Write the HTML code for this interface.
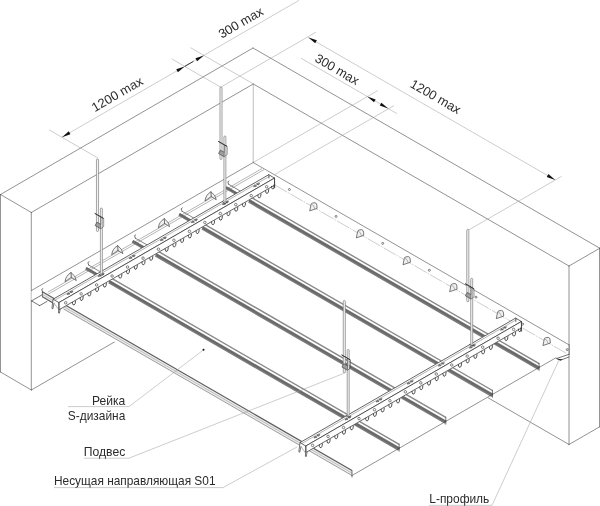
<!DOCTYPE html>
<html><head><meta charset="utf-8"><title>S-design ceiling</title>
<style>
html,body{margin:0;padding:0;background:#fff}
svg{display:block}
.w{stroke:#444;stroke-width:.58;fill:none;stroke-linecap:round}
.w2{stroke:#8a8a8a;stroke-width:.55;fill:none}
.m{stroke:#444;stroke-width:.7;fill:none}
.d{stroke:#3a3a3a;stroke-width:.7;fill:none;stroke-linejoin:round;stroke-linecap:round}
.l{stroke:#777;stroke-width:.55;fill:none}
.x{stroke:#9a9a9a;stroke-width:.5;fill:none}
.x2{stroke:#222;stroke-width:.9;fill:none}
.fill{fill:#fff;stroke:none}
.fillc{fill:#fff;stroke:none}
.cf{fill:#fff;stroke:#333;stroke-width:.75;stroke-linejoin:round}
.h{fill:#fff;stroke:#333;stroke-width:.6}
.hk{fill:none;stroke:#333;stroke-width:.85;stroke-linecap:round}
.bt{fill:#999;stroke:#3a3a3a;stroke-width:.55;stroke-linejoin:round}
.r0f{fill:#ececec;stroke:none}
.r0a{stroke:#5a5a5a;stroke-width:1.1;fill:none}
.r0b{stroke:#aaa;stroke-width:.7;fill:none}
.r0c{stroke:#777;stroke-width:.7;fill:none}
.rt2{stroke:#666;stroke-width:.8;fill:none}
.rb2{stroke:#777;stroke-width:3.1;fill:none}
.rt{stroke:#888;stroke-width:1.4;fill:none}
.rb{stroke:#7b7b7b;stroke-width:3.7;fill:none}
.rc{stroke:#686868;stroke-width:1.6;fill:none}
.tail{fill:#e8e8e8;stroke:#444;stroke-width:.6}
.rod{fill:#f2f2f2;stroke:#6c6c6c;stroke-width:.6}
.clip{fill:none;stroke:#444;stroke-width:.55;stroke-linejoin:round}
.clipd{fill:#a0a0a0;stroke:#444;stroke-width:.45}
.clipb{stroke:#2a2a2a;stroke-width:.9}
.cl{fill:#f1f1f1;stroke:#444;stroke-width:.7;stroke-linejoin:round}
.ar{fill:#111;stroke:none}
.t{font-family:"Liberation Sans",sans-serif;fill:#2b2b2b}
</style></head>
<body>
<svg width="600" height="506" viewBox="0 0 600 506" style="filter:grayscale(1)">
<rect width="600" height="506" fill="#fff"/>
<line class="w" x1="0.5" y1="194.5" x2="253" y2="48"/>
<line class="w" x1="253" y1="48" x2="599.5" y2="248.06"/>
<line class="w" x1="0.5" y1="194.5" x2="31.3" y2="212.5"/>
<line class="w" x1="31.3" y1="212.5" x2="253.3" y2="84"/>
<line class="w" x1="253.3" y1="84" x2="569" y2="266"/>
<line class="w" x1="569" y1="266" x2="599.5" y2="248.39"/>
<line class="w" x1="0.5" y1="194.5" x2="0.5" y2="372"/>
<line class="w" x1="31.3" y1="212.5" x2="31.3" y2="390"/>
<line class="w" x1="569" y1="266" x2="569" y2="444.5"/>
<line class="w2" x1="253.3" y1="84" x2="253.2" y2="162.5"/>
<line class="w" x1="0.5" y1="372" x2="31.3" y2="390"/>
<line class="w" x1="31.3" y1="390" x2="119" y2="339.36"/>
<line class="w" x1="569" y1="444.5" x2="599.5" y2="426.89"/>
<line class="w" x1="599.5" y1="248.06" x2="599.5" y2="426.89"/>
<line class="w" x1="569" y1="444.5" x2="488" y2="397.73"/>
<line class="x" x1="62" y1="137.2" x2="299" y2="0.36"/>
<line class="x" x1="49" y1="129.8" x2="98" y2="158.09"/>
<line class="x" x1="171.5" y1="58.78" x2="221" y2="87.36"/>
<line class="x" x1="190.5" y1="47.66" x2="253.3" y2="83.92"/>
<path class="ar" d="M62,137.2 L68.8,131.37 L70.45,134.23 Z"/>
<path class="ar" d="M184.7,66.4 L177.9,72.23 L176.25,69.37 Z"/>
<line class="x2" x1="184.7" y1="66.4" x2="193.36" y2="61.4"/>
<path class="ar" d="M203.9,55.4 L197.1,61.23 L195.45,58.37 Z"/>
<text class="t" x="119.4" y="97.9" font-size="12.8" text-anchor="middle" transform="rotate(-30 119.4 97.9)" textLength="57" lengthAdjust="spacingAndGlyphs">1200 max</text>
<text class="t" x="243" y="26.4" font-size="12.8" text-anchor="middle" transform="rotate(-30 243 26.4)" textLength="49.2" lengthAdjust="spacingAndGlyphs">300 max</text>
<line class="x" x1="308.4" y1="37.4" x2="555" y2="179.78"/>
<path class="ar" d="M308.4,37.4 L316.85,40.37 L315.2,43.23 Z"/>
<path class="ar" d="M555.2,179.89 L546.75,176.92 L548.4,174.07 Z"/>
<line class="x" x1="221" y1="87" x2="316" y2="32.15"/>
<line class="x" x1="301" y1="58.2" x2="397" y2="113.63"/>
<path class="ar" d="M367.2,96.42 L375.65,99.39 L374,102.25 Z"/>
<path class="ar" d="M388.2,108.55 L379.75,105.58 L381.4,102.72 Z"/>
<line class="x" x1="378" y1="90.44" x2="253.2" y2="162.5"/>
<line class="x" x1="275" y1="174.3" x2="394" y2="105.59"/>
<line class="x" x1="561.5" y1="176.4" x2="469" y2="229.81"/>
<text class="t" x="334.9" y="73.2" font-size="12.8" text-anchor="middle" transform="rotate(30 334.9 73.2)" textLength="48.5" lengthAdjust="spacingAndGlyphs">300 max</text>
<text class="t" x="433.4" y="100.4" font-size="12.8" text-anchor="middle" transform="rotate(30 433.4 100.4)" textLength="56" lengthAdjust="spacingAndGlyphs">1200 max</text>
<path class="fill" d="M31.6,290.44 L253.2,162.5 L569,344.83 L569,354 L556,357.72 L352,475.5 L310,455 L63,311.63 L39.7,305.6 L31.5,300.9 Z"/>
<line class="w" x1="31.5" y1="290.5" x2="253.2" y2="162.5"/>
<line class="d" x1="31.5" y1="300.9" x2="39.7" y2="305.6"/>
<line class="d" x1="39.7" y1="305.6" x2="47" y2="301.39"/>
<line class="d" x1="31.5" y1="300.9" x2="42" y2="294.84"/>
<line class="l" x1="47.8" y1="292.2" x2="262" y2="168.53"/>
<line class="l" x1="48.4" y1="294.1" x2="264" y2="169.62"/>
<path class="cl" d="M65.05,281.7 Q65.6,275.8 71,272.55 Q75.7,275.8 76.3,280.55 L71.3,277.3 Z"/>
<path class="d" d="M71,272.55 L71.3,277.3"/>
<path class="cl" d="M111.7,254.77 Q112.25,248.87 117.65,245.62 Q122.35,248.87 122.95,253.62 L117.95,250.37 Z"/>
<path class="d" d="M117.65,245.62 L117.95,250.37"/>
<path class="cl" d="M158.35,227.84 Q158.9,221.94 164.3,218.69 Q169,221.94 169.6,226.69 L164.6,223.44 Z"/>
<path class="d" d="M164.3,218.69 L164.6,223.44"/>
<path class="cl" d="M205,200.91 Q205.55,195.01 210.95,191.76 Q215.65,195.01 216.25,199.76 L211.25,196.51 Z"/>
<path class="d" d="M210.95,191.76 L211.25,196.51"/>
<line class="w" x1="253.2" y1="162.5" x2="569" y2="344.83"/>
<line class="x" x1="275" y1="185.09" x2="567" y2="353.68" stroke-dasharray="14 1.2 1.5 1.2"/>
<path class="cl" d="M309.7,210.9 L311,204.5 Q311.2,203.3 312.4,203.1 L315,202.7 Q316.8,203.1 316.9,205.3 L317.1,208.4 Z"/>
<path class="l" d="M311.4,204.3 Q314,204.7 315,209.1"/>
<path class="cl" d="M356.35,237.83 L357.65,231.43 Q357.85,230.23 359.05,230.03 L361.65,229.63 Q363.45,230.03 363.55,232.23 L363.75,235.33 Z"/>
<path class="l" d="M358.05,231.23 Q360.65,231.63 361.65,236.03"/>
<path class="cl" d="M403,264.76 L404.3,258.36 Q404.5,257.16 405.7,256.96 L408.3,256.56 Q410.1,256.96 410.2,259.16 L410.4,262.26 Z"/>
<path class="l" d="M404.7,258.16 Q407.3,258.56 408.3,262.96"/>
<path class="cl" d="M449.65,291.69 L450.95,285.29 Q451.15,284.09 452.35,283.89 L454.95,283.49 Q456.75,283.89 456.85,286.09 L457.05,289.19 Z"/>
<path class="l" d="M451.35,285.09 Q453.95,285.49 454.95,289.89"/>
<path class="cl" d="M496.3,318.62 L497.6,312.22 Q497.8,311.02 499,310.82 L501.6,310.42 Q503.4,310.82 503.5,313.02 L503.7,316.12 Z"/>
<path class="l" d="M498,312.02 Q500.6,312.42 501.6,316.82"/>
<path class="cl" d="M542.95,345.55 L544.25,339.15 Q544.45,337.95 545.65,337.75 L548.25,337.35 Q550.05,337.75 550.15,339.95 L550.35,343.05 Z"/>
<path class="l" d="M544.65,338.95 Q547.25,339.35 548.25,343.75"/>
<circle class="h" cx="289.4" cy="189.5" r="1.0"/>
<circle class="h" cx="336.05" cy="216.43" r="1.0"/>
<circle class="h" cx="382.7" cy="243.36" r="1.0"/>
<circle class="h" cx="429.35" cy="270.29" r="1.0"/>
<circle class="h" cx="476" cy="297.22" r="1.0"/>
<circle class="h" cx="522.65" cy="324.15" r="1.0"/>
<circle class="h" cx="567.2" cy="349.6" r="1.0"/>
<line class="d" x1="569" y1="344.83" x2="569" y2="354.3"/>
<path class="d" d="M569,354.3 L556.4,358.6 L560.4,360.2 L569,357"/>
<path d="M556.4,358.6 L560.4,360.4 L563,359.4 Z" fill="#222"/>
<path class="r0f" d="M63.5,304.02 L352,470.59 L352,475.49 L63.5,308.92 Z"/>
<line class="r0a" x1="63.5" y1="304.02" x2="352" y2="470.59"/>
<line class="r0b" x1="63.5" y1="306.52" x2="352" y2="473.09"/>
<line class="r0c" x1="63.5" y1="308.92" x2="352" y2="475.49"/>
<path class="d" d="M352,470.59 L352,476.99"/>
<line class="rt" x1="109.15" y1="276.91" x2="399.15" y2="444.35"/>
<line class="rb" x1="109.15" y1="281.76" x2="399.15" y2="449.2"/>
<line class="rc" x1="109.15" y1="281.31" x2="399.15" y2="448.75"/>
<path class="d" d="M399.15,444.15 L399.15,451.15"/>
<line class="rt" x1="155.8" y1="249.98" x2="445.8" y2="417.42"/>
<line class="rb" x1="155.8" y1="254.83" x2="445.8" y2="422.27"/>
<line class="rc" x1="155.8" y1="254.38" x2="445.8" y2="421.82"/>
<path class="d" d="M445.8,417.22 L445.8,424.22"/>
<line class="rt" x1="202.45" y1="223.05" x2="492.45" y2="390.49"/>
<line class="rb" x1="202.45" y1="227.9" x2="492.45" y2="395.34"/>
<line class="rc" x1="202.45" y1="227.45" x2="492.45" y2="394.89"/>
<path class="d" d="M492.45,390.29 L492.45,397.29"/>
<line class="rt" x1="249.1" y1="196.12" x2="539.1" y2="363.56"/>
<line class="rb" x1="249.1" y1="200.97" x2="539.1" y2="368.41"/>
<line class="rc" x1="249.1" y1="200.52" x2="539.1" y2="367.96"/>
<path class="d" d="M539.1,363.36 L539.1,370.36"/>
<line class="w" x1="352" y1="475.5" x2="556" y2="357.72"/>
<path class="r0f" d="M42.4,291.84 L60,302 L60,306.9 L42.4,296.74 Z"/>
<line class="r0a" x1="42.4" y1="291.84" x2="60" y2="302"/>
<line class="r0b" x1="42.4" y1="294.34" x2="60" y2="304.5"/>
<line class="r0a" x1="42.4" y1="296.74" x2="60" y2="306.9"/>
<line class="d" x1="42.4" y1="291.84" x2="42.4" y2="296.74"/>
<path class="d" d="M42.6,292.04 L41.7,289.44 L42.9,288.64"/>
<line class="rt2" x1="88.55" y1="265.02" x2="106.65" y2="275.47"/>
<line class="rb2" x1="85.95" y1="268.32" x2="106.65" y2="280.27"/>
<line class="rc" x1="85.95" y1="267.92" x2="106.65" y2="279.87"/>
<path class="d" d="M88.75,265.22 L87.85,262.62 L89.05,261.82"/>
<line class="rt2" x1="135.2" y1="238.09" x2="153.3" y2="248.54"/>
<line class="rb2" x1="132.6" y1="241.39" x2="153.3" y2="253.34"/>
<line class="rc" x1="132.6" y1="240.99" x2="153.3" y2="252.94"/>
<path class="d" d="M135.4,238.29 L134.5,235.69 L135.7,234.89"/>
<line class="rt2" x1="181.85" y1="211.16" x2="199.95" y2="221.61"/>
<line class="rb2" x1="179.25" y1="214.46" x2="199.95" y2="226.41"/>
<line class="rc" x1="179.25" y1="214.06" x2="199.95" y2="226.01"/>
<path class="d" d="M182.05,211.36 L181.15,208.76 L182.35,207.96"/>
<line class="rt2" x1="228.5" y1="184.23" x2="246.6" y2="194.68"/>
<line class="rb2" x1="225.9" y1="187.53" x2="246.6" y2="199.48"/>
<line class="rc" x1="225.9" y1="187.13" x2="246.6" y2="199.08"/>
<path class="d" d="M228.7,184.43 L227.8,181.83 L229,181.03"/>
<text class="t" x="125.3" y="404.6" font-size="12.4" text-anchor="end" textLength="33.3" lengthAdjust="spacingAndGlyphs">Рейка</text>
<text class="t" x="125.3" y="419.6" font-size="12.4" text-anchor="end" textLength="57.5" lengthAdjust="spacingAndGlyphs">S-дизайна</text>
<text class="t" x="125.3" y="455.8" font-size="12.4" text-anchor="end" textLength="41.5" lengthAdjust="spacingAndGlyphs">Подвес</text>
<text class="t" x="54" y="485.2" font-size="12.4" textLength="161.5" lengthAdjust="spacingAndGlyphs">Несущая направляющая S01</text>
<text class="t" x="429.3" y="502.7" font-size="12.4" textLength="60" lengthAdjust="spacingAndGlyphs">L-профиль</text>
<path class="x" d="M68,406.6 L129,406.6 L203.3,350"/>
<circle cx="203.5" cy="349.8" r="1" fill="#111"/>
<path class="x" d="M84,458.2 L129,458.2 L343.5,373.5"/>
<path class="x" d="M54,487.6 L223,487.6 L297,447"/>
<path class="x" d="M429,505.3 L492,505.3 L559,360"/>
<path class="fillc" d="M53.1,299.2 L268.73,174.7 L274.53,178.1 L274.53,185.2 L59.2,309.7 L52.1,308.7 Z"/>
<path class="cf" d="M53.1,299.2 L268.73,174.7 L274.53,178.1 L58.9,302.6 Z"/>
<path class="cf" d="M58.9,302.6 L274.53,178.1 L274.53,185.2 L59.2,309.7 Z"/>
<line class="l" x1="54.8" y1="300.2" x2="270.43" y2="175.7"/>
<path class="d" d="M53.1,299.2 L51.9,308.4 L52.9,308.8 L54,303.2"/>
<path class="d" d="M58.9,302.6 L58.5,312.9 L59.4,313.2 L60.1,309.2"/>
<line class="l" x1="54" y1="303.2" x2="58.7" y2="309.6"/>
<path class="d" d="M268.73,174.7 L268.93,178.2"/>
<path class="d" d="M274.53,178.1 L274.73,187.9 L273.93,187.6 L273.73,185.2"/>
<circle class="h" cx="65.7" cy="302.77" r="1.25"/>
<circle class="h" cx="81.16" cy="293.85" r="1.25"/>
<circle class="h" cx="96.62" cy="284.92" r="1.25"/>
<circle class="h" cx="112.08" cy="276" r="1.25"/>
<circle class="h" cx="127.54" cy="267.07" r="1.25"/>
<circle class="h" cx="143" cy="258.14" r="1.25"/>
<circle class="h" cx="158.46" cy="249.22" r="1.25"/>
<circle class="h" cx="173.92" cy="240.29" r="1.25"/>
<circle class="h" cx="189.38" cy="231.37" r="1.25"/>
<circle class="h" cx="204.84" cy="222.44" r="1.25"/>
<circle class="h" cx="220.3" cy="213.51" r="1.25"/>
<circle class="h" cx="235.76" cy="204.59" r="1.25"/>
<circle class="h" cx="251.22" cy="195.66" r="1.25"/>
<circle class="h" cx="266.68" cy="186.73" r="1.25"/>
<path class="hk" d="M72.43,302.41 L72.53,303.71 Q72.83,305.31 74.23,304.91 Q75.43,304.31 75.53,301.11"/>
<path class="hk" d="M80.16,297.95 L80.26,299.25 Q80.56,300.85 81.96,300.45 Q83.16,299.85 83.26,296.65"/>
<path class="hk" d="M87.89,293.48 L87.99,294.78 Q88.29,296.38 89.69,295.98 Q90.89,295.38 90.99,292.18"/>
<path class="hk" d="M95.62,289.02 L95.72,290.32 Q96.02,291.92 97.42,291.52 Q98.62,290.92 98.72,287.72"/>
<path class="hk" d="M103.35,284.56 L103.45,285.86 Q103.75,287.46 105.15,287.06 Q106.35,286.46 106.45,283.26"/>
<path class="hk" d="M118.81,275.63 L118.91,276.93 Q119.21,278.53 120.61,278.13 Q121.81,277.53 121.91,274.33"/>
<path class="hk" d="M126.54,271.17 L126.64,272.47 Q126.94,274.07 128.34,273.67 Q129.54,273.07 129.64,269.87"/>
<path class="hk" d="M134.27,266.71 L134.37,268.01 Q134.67,269.61 136.07,269.21 Q137.27,268.61 137.37,265.41"/>
<path class="hk" d="M142,262.24 L142.1,263.54 Q142.4,265.14 143.8,264.74 Q145,264.14 145.1,260.94"/>
<path class="hk" d="M149.73,257.78 L149.83,259.08 Q150.13,260.68 151.53,260.28 Q152.73,259.68 152.83,256.48"/>
<path class="hk" d="M165.19,248.85 L165.29,250.15 Q165.59,251.75 166.99,251.35 Q168.19,250.75 168.29,247.55"/>
<path class="hk" d="M172.92,244.39 L173.02,245.69 Q173.32,247.29 174.72,246.89 Q175.92,246.29 176.02,243.09"/>
<path class="hk" d="M180.65,239.93 L180.75,241.23 Q181.05,242.83 182.45,242.43 Q183.65,241.83 183.75,238.63"/>
<path class="hk" d="M188.38,235.47 L188.48,236.77 Q188.78,238.37 190.18,237.97 Q191.38,237.37 191.48,234.17"/>
<path class="hk" d="M196.11,231 L196.21,232.3 Q196.51,233.9 197.91,233.5 Q199.11,232.9 199.21,229.7"/>
<path class="hk" d="M211.57,222.08 L211.67,223.38 Q211.97,224.98 213.37,224.58 Q214.57,223.98 214.67,220.78"/>
<path class="hk" d="M219.3,217.61 L219.4,218.91 Q219.7,220.51 221.1,220.11 Q222.3,219.51 222.4,216.31"/>
<path class="hk" d="M227.03,213.15 L227.13,214.45 Q227.43,216.05 228.83,215.65 Q230.03,215.05 230.13,211.85"/>
<path class="hk" d="M234.76,208.69 L234.86,209.99 Q235.16,211.59 236.56,211.19 Q237.76,210.59 237.86,207.39"/>
<path class="hk" d="M242.49,204.22 L242.59,205.52 Q242.89,207.12 244.29,206.72 Q245.49,206.12 245.59,202.92"/>
<path class="hk" d="M257.95,195.3 L258.05,196.6 Q258.35,198.2 259.75,197.8 Q260.95,197.2 261.05,194"/>
<path class="hk" d="M265.68,190.83 L265.78,192.13 Q266.08,193.73 267.48,193.33 Q268.68,192.73 268.78,189.53"/>
<path class="hk" d="M271.53,186.37 L271.63,187.67 Q271.93,189.27 273.33,188.87 Q274.53,188.27 274.63,185.07"/>
<path class="bt" d="M66.97,294.57 L68.01,292.87 L69.91,293.97 Z M73.03,291.07 L70.09,291.67 L71.99,292.77 Z M68.96,293.42 L71.04,292.22"/>
<path class="bt" d="M98.07,276.61 L99.11,274.91 L101.01,276.01 Z M104.13,273.11 L101.19,273.71 L103.09,274.81 Z M100.06,275.46 L102.14,274.26"/>
<path class="bt" d="M129.17,258.65 L130.21,256.95 L132.11,258.05 Z M135.23,255.15 L132.29,255.75 L134.19,256.85 Z M131.16,257.5 L133.24,256.3"/>
<path class="bt" d="M160.27,240.7 L161.31,239 L163.21,240.1 Z M166.33,237.2 L163.39,237.8 L165.29,238.9 Z M162.26,239.55 L164.34,238.35"/>
<path class="bt" d="M191.37,222.74 L192.41,221.04 L194.31,222.14 Z M197.43,219.24 L194.49,219.84 L196.39,220.94 Z M193.36,221.59 L195.44,220.39"/>
<path class="bt" d="M222.47,204.79 L223.51,203.09 L225.41,204.19 Z M228.53,201.29 L225.59,201.89 L227.49,202.99 Z M224.46,203.64 L226.54,202.44"/>
<path class="bt" d="M253.57,186.83 L254.61,185.13 L256.51,186.23 Z M259.63,183.33 L256.69,183.93 L258.59,185.03 Z M255.56,185.68 L257.64,184.48"/>
<path class="fillc" d="M300,442.6 L515.63,318.1 L521.43,321.5 L521.43,327.9 L306.1,452.4 L299,452.1 Z"/>
<path class="cf" d="M300,442.6 L515.63,318.1 L521.43,321.5 L305.8,446 Z"/>
<path class="cf" d="M305.8,446 L521.43,321.5 L521.43,327.9 L306.1,452.4 Z"/>
<line class="l" x1="301.7" y1="443.6" x2="517.33" y2="319.1"/>
<path class="d" d="M300,442.6 L298.8,451.8 L299.8,452.2 L300.9,446.6"/>
<path class="d" d="M305.8,446 L305.4,456.3 L306.3,456.6 L307,452.6"/>
<line class="l" x1="300.9" y1="446.6" x2="305.6" y2="453"/>
<path class="d" d="M515.63,318.1 L515.83,321.6"/>
<path class="d" d="M521.43,321.5 L521.63,331.3 L520.83,331 L520.63,327.9"/>
<circle class="h" cx="312.6" cy="445.37" r="1.25"/>
<circle class="h" cx="328.06" cy="436.45" r="1.25"/>
<circle class="h" cx="343.52" cy="427.52" r="1.25"/>
<circle class="h" cx="358.98" cy="418.6" r="1.25"/>
<circle class="h" cx="374.44" cy="409.67" r="1.25"/>
<circle class="h" cx="389.9" cy="400.74" r="1.25"/>
<circle class="h" cx="405.36" cy="391.82" r="1.25"/>
<circle class="h" cx="420.82" cy="382.89" r="1.25"/>
<circle class="h" cx="436.28" cy="373.97" r="1.25"/>
<circle class="h" cx="451.74" cy="365.04" r="1.25"/>
<circle class="h" cx="467.2" cy="356.11" r="1.25"/>
<circle class="h" cx="482.66" cy="347.19" r="1.25"/>
<circle class="h" cx="498.12" cy="338.26" r="1.25"/>
<circle class="h" cx="513.58" cy="329.33" r="1.25"/>
<path class="hk" d="M319.33,445.11 L319.43,446.41 Q319.73,448.01 321.13,447.61 Q322.33,447.01 322.43,443.81"/>
<path class="hk" d="M327.06,440.65 L327.16,441.95 Q327.46,443.55 328.86,443.15 Q330.06,442.55 330.16,439.35"/>
<path class="hk" d="M334.79,436.18 L334.89,437.48 Q335.19,439.08 336.59,438.68 Q337.79,438.08 337.89,434.88"/>
<path class="hk" d="M342.52,431.72 L342.62,433.02 Q342.92,434.62 344.32,434.22 Q345.52,433.62 345.62,430.42"/>
<path class="hk" d="M350.25,427.26 L350.35,428.56 Q350.65,430.16 352.05,429.76 Q353.25,429.16 353.35,425.96"/>
<path class="hk" d="M365.71,418.33 L365.81,419.63 Q366.11,421.23 367.51,420.83 Q368.71,420.23 368.81,417.03"/>
<path class="hk" d="M373.44,413.87 L373.54,415.17 Q373.84,416.77 375.24,416.37 Q376.44,415.77 376.54,412.57"/>
<path class="hk" d="M381.17,409.41 L381.27,410.71 Q381.57,412.31 382.97,411.91 Q384.17,411.31 384.27,408.11"/>
<path class="hk" d="M388.9,404.94 L389,406.24 Q389.3,407.84 390.7,407.44 Q391.9,406.84 392,403.64"/>
<path class="hk" d="M396.63,400.48 L396.73,401.78 Q397.03,403.38 398.43,402.98 Q399.63,402.38 399.73,399.18"/>
<path class="hk" d="M412.09,391.55 L412.19,392.85 Q412.49,394.45 413.89,394.05 Q415.09,393.45 415.19,390.25"/>
<path class="hk" d="M419.82,387.09 L419.92,388.39 Q420.22,389.99 421.62,389.59 Q422.82,388.99 422.92,385.79"/>
<path class="hk" d="M427.55,382.63 L427.65,383.93 Q427.95,385.53 429.35,385.13 Q430.55,384.53 430.65,381.33"/>
<path class="hk" d="M435.28,378.17 L435.38,379.47 Q435.68,381.07 437.08,380.67 Q438.28,380.07 438.38,376.87"/>
<path class="hk" d="M443.01,373.7 L443.11,375 Q443.41,376.6 444.81,376.2 Q446.01,375.6 446.11,372.4"/>
<path class="hk" d="M458.47,364.78 L458.57,366.08 Q458.87,367.68 460.27,367.28 Q461.47,366.68 461.57,363.48"/>
<path class="hk" d="M466.2,360.31 L466.3,361.61 Q466.6,363.21 468,362.81 Q469.2,362.21 469.3,359.01"/>
<path class="hk" d="M473.93,355.85 L474.03,357.15 Q474.33,358.75 475.73,358.35 Q476.93,357.75 477.03,354.55"/>
<path class="hk" d="M481.66,351.39 L481.76,352.69 Q482.06,354.29 483.46,353.89 Q484.66,353.29 484.76,350.09"/>
<path class="hk" d="M489.39,346.92 L489.49,348.22 Q489.79,349.82 491.19,349.42 Q492.39,348.82 492.49,345.62"/>
<path class="hk" d="M504.85,338 L504.95,339.3 Q505.25,340.9 506.65,340.5 Q507.85,339.9 507.95,336.7"/>
<path class="hk" d="M512.58,333.53 L512.68,334.83 Q512.98,336.43 514.38,336.03 Q515.58,335.43 515.68,332.23"/>
<path class="hk" d="M518.43,329.07 L518.53,330.37 Q518.83,331.97 520.23,331.57 Q521.43,330.97 521.53,327.77"/>
<path class="bt" d="M313.87,437.97 L314.91,436.27 L316.81,437.37 Z M319.93,434.47 L316.99,435.07 L318.89,436.17 Z M315.86,436.82 L317.94,435.62"/>
<path class="bt" d="M344.97,420.01 L346.01,418.31 L347.91,419.41 Z M351.03,416.51 L348.09,417.11 L349.99,418.21 Z M346.96,418.86 L349.04,417.66"/>
<path class="bt" d="M376.07,402.05 L377.11,400.35 L379.01,401.45 Z M382.13,398.55 L379.19,399.15 L381.09,400.25 Z M378.06,400.9 L380.14,399.7"/>
<path class="bt" d="M407.17,384.1 L408.21,382.4 L410.11,383.5 Z M413.23,380.6 L410.29,381.2 L412.19,382.3 Z M409.16,382.95 L411.24,381.75"/>
<path class="bt" d="M438.27,366.14 L439.31,364.44 L441.21,365.54 Z M444.33,362.64 L441.39,363.24 L443.29,364.34 Z M440.26,364.99 L442.34,363.79"/>
<path class="bt" d="M469.37,348.19 L470.41,346.49 L472.31,347.59 Z M475.43,344.69 L472.49,345.29 L474.39,346.39 Z M471.36,347.04 L473.44,345.84"/>
<path class="bt" d="M500.47,330.23 L501.51,328.53 L503.41,329.63 Z M506.53,326.73 L503.59,327.33 L505.49,328.43 Z M502.46,329.08 L504.54,327.88"/>
<rect class="rod" x="96.45" y="159" width="2.1" height="72.5" rx="1"/>
<rect class="rod" x="100.4" y="208" width="2.0" height="66" rx="1"/>
<path class="clip" d="M94.9,213.5 L103.7,218.4 L103.7,226.5 L100.7,228.8 L95.1,225.6 L96.9,222.2 L100.9,224.4 L100.9,217"/>
<path class="clipd" d="M95.3,225.3 L97.1,222.4 L100.7,224.5 L100.7,228.4 Z"/>
<line class="clipb" x1="94.7" y1="213.3" x2="103.5" y2="218.4"/>
<path class="d" d="M99.2,274.3 L101.6,275.7 L103.8,274.4"/>
<rect class="rod" x="219.95" y="87" width="2.1" height="72.5" rx="1"/>
<rect class="rod" x="223.9" y="136" width="2.0" height="66" rx="1"/>
<path class="clip" d="M218.4,141.5 L227.2,146.4 L227.2,154.5 L224.2,156.8 L218.6,153.6 L220.4,150.2 L224.4,152.4 L224.4,145"/>
<path class="clipd" d="M218.8,153.3 L220.6,150.4 L224.2,152.5 L224.2,156.4 Z"/>
<line class="clipb" x1="218.2" y1="141.3" x2="227" y2="146.4"/>
<path class="d" d="M222.7,202.3 L225.1,203.7 L227.3,202.4"/>
<rect class="rod" x="343.25" y="300.5" width="2.1" height="72.5" rx="1"/>
<rect class="rod" x="347.2" y="349.5" width="2.0" height="66" rx="1"/>
<path class="clip" d="M341.7,355 L350.5,359.9 L350.5,368 L347.5,370.3 L341.9,367.1 L343.7,363.7 L347.7,365.9 L347.7,358.5"/>
<path class="clipd" d="M342.1,366.8 L343.9,363.9 L347.5,366 L347.5,369.9 Z"/>
<line class="clipb" x1="341.5" y1="354.8" x2="350.3" y2="359.9"/>
<path class="d" d="M346,415.8 L348.4,417.2 L350.6,415.9"/>
<rect class="rod" x="466.75" y="229.3" width="2.1" height="72.5" rx="1"/>
<rect class="rod" x="470.7" y="278.3" width="2.0" height="66" rx="1"/>
<path class="clip" d="M465.2,283.8 L474,288.7 L474,296.8 L471,299.1 L465.4,295.9 L467.2,292.5 L471.2,294.7 L471.2,287.3"/>
<path class="clipd" d="M465.6,295.6 L467.4,292.7 L471,294.8 L471,298.7 Z"/>
<line class="clipb" x1="465" y1="283.6" x2="473.8" y2="288.7"/>
<path class="d" d="M469.5,344.6 L471.9,346 L474.1,344.7"/>
</svg>
</body></html>
